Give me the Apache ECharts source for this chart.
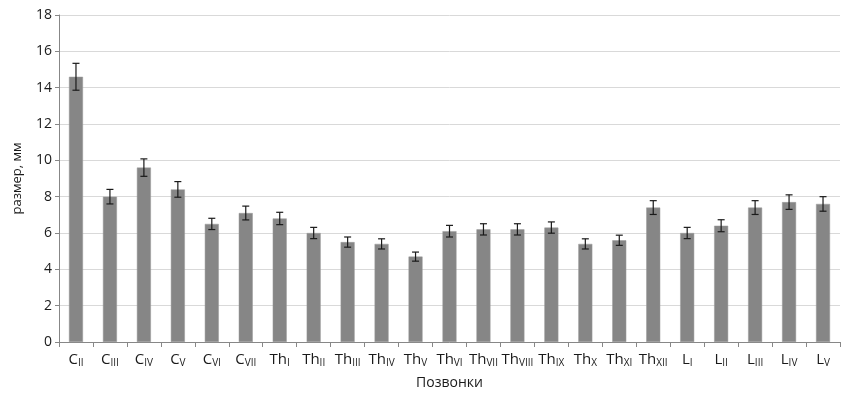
<!DOCTYPE html>
<html>
<head>
<meta charset="utf-8">
<script src="https://cdn.jsdelivr.net/npm/echarts@6/dist/echarts.min.js"></script>
<style>
html,body{margin:0;padding:0;background:#fff;}
#chart{width:857px;height:398px;}
</style>
</head>
<body>
<div id="chart"></div>
<script>
// Category labels: base letters and Roman-numeral subscripts
const catBase = ['C','C','C','C','C','C','Th','Th','Th','Th','Th','Th','Th','Th','Th','Th','Th','Th','L','L','L','L','L'];
const catSub  = ['II','III','IV','V','VI','VII','I','II','III','IV','V','VI','VII','VIII','IX','X','XI','XII','I','II','III','IV','V'];
// Mean size, mm
const values = [14.6, 8.0, 9.6, 8.4, 6.5, 7.1, 6.8, 6.0, 5.5, 5.4, 4.7, 6.1, 6.2, 6.2, 6.3, 5.4, 5.6, 7.4, 6.0, 6.4, 7.4, 7.7, 7.6];
// Error (±), mm
const errors = [0.74, 0.4, 0.48, 0.43, 0.31, 0.38, 0.34, 0.31, 0.28, 0.28, 0.25, 0.32, 0.31, 0.31, 0.31, 0.28, 0.28, 0.38, 0.31, 0.33, 0.38, 0.4, 0.4];
// Y axis ticks
const yTicks = [0, 2, 4, 6, 8, 10, 12, 14, 16, 18];

const categories = catBase.map((b, i) => b + '_' + catSub[i]);
const errData = values.map((v, i) => [i, v - errors[i], v + errors[i]]);

const FONT = '"Open Sans", "Noto Sans", sans-serif';
const chart = echarts.init(document.getElementById('chart'), null, {renderer: 'canvas'});
chart.setOption({
  animation: false,
  backgroundColor: '#ffffff',
  grid: {left: 59, right: 17, top: 15, bottom: 56, containLabel: false},
  xAxis: {
    type: 'category',
    data: categories,
    name: 'Позвонки',
    nameLocation: 'middle',
    nameGap: 34,
    nameTextStyle: {fontFamily: FONT, fontSize: 14, color: '#1a1a1a'},
    axisLine: {show: true, lineStyle: {color: '#878787', width: 1}},
    axisTick: {show: true, length: 5, alignWithLabel: false, lineStyle: {color: '#878787'}},
    axisLabel: {
      interval: 0,
      margin: 10,
      formatter: function (v, i) { return '{b|' + catBase[i] + '}{s|' + catSub[i] + '}'; },
      rich: {
        b: {fontFamily: FONT, fontSize: 15, lineHeight: 16, verticalAlign: 'top', color: '#1a1a1a'},
        s: {fontFamily: FONT, fontSize: 10, lineHeight: 5, verticalAlign: 'bottom', color: '#1a1a1a'}
      }
    },
    splitLine: {show: false}
  },
  yAxis: {
    type: 'value',
    min: yTicks[0],
    max: yTicks[yTicks.length - 1],
    interval: 2,
    name: 'размер, мм',
    nameLocation: 'middle',
    nameGap: 35,
    nameRotate: 90,
    nameTextStyle: {fontFamily: FONT, fontSize: 13, color: '#1a1a1a'},
    axisLine: {show: true, lineStyle: {color: '#878787', width: 1}},
    axisTick: {show: true, length: 4, lineStyle: {color: '#878787'}},
    axisLabel: {fontFamily: FONT, fontSize: 14, color: '#1a1a1a', margin: 7},
    splitLine: {show: true, lineStyle: {color: '#d9d9d9', width: 1}}
  },
  series: [
    {
      type: 'bar',
      data: values,
      barWidth: 14,
      itemStyle: {color: '#868686', borderColor: '#9a9a9a', borderWidth: 0.5},
      z: 2
    },
    {
      type: 'custom',
      data: errData,
      z: 5,
      renderItem: function (params, api) {
        const x = api.value(0);
        const lo = api.coord([x, api.value(1)]);
        const hi = api.coord([x, api.value(2)]);
        const hw = 3.5;
        const style = {stroke: '#1a1a1a', lineWidth: 1.2};
        return {
          type: 'group',
          children: [
            {type: 'line', shape: {x1: lo[0], y1: lo[1], x2: hi[0], y2: hi[1]}, style: style},
            {type: 'line', shape: {x1: lo[0] - hw, y1: lo[1], x2: lo[0] + hw, y2: lo[1]}, style: style},
            {type: 'line', shape: {x1: hi[0] - hw, y1: hi[1], x2: hi[0] + hw, y2: hi[1]}, style: style}
          ]
        };
      }
    }
  ]
});
</script>
</body>
</html>
